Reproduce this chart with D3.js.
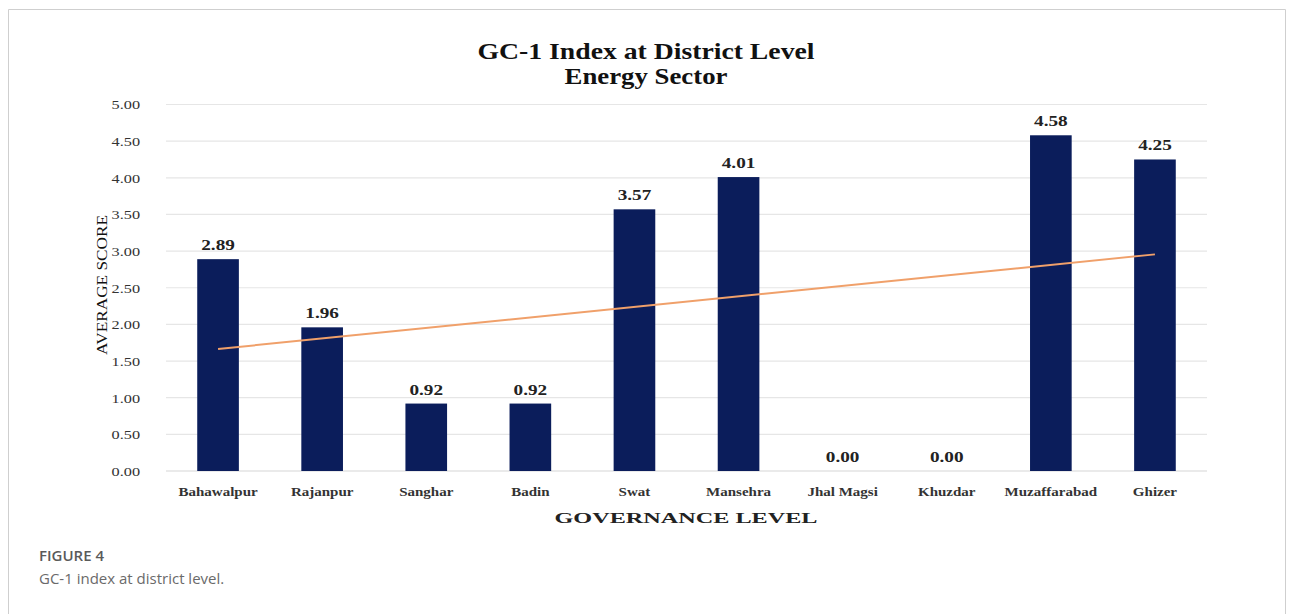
<!DOCTYPE html>
<html><head><meta charset="utf-8">
<script src="https://cdn.jsdelivr.net/npm/d3@7"></script>
<style>
html,body{margin:0;padding:0;background:#fff;}
svg{display:block;}
</style></head>
<body>
<svg id="chart" width="1292" height="614"></svg>
<script>
const categories = ["Bahawalpur","Rajanpur","Sanghar","Badin","Swat","Mansehra","Jhal Magsi","Khuzdar","Muzaffarabad","Ghizer"];
const values = [2.89,1.96,0.92,0.92,3.57,4.01,0.00,0.00,4.58,4.25];
const yTicks = [0,0.5,1,1.5,2,2.5,3,3.5,4,4.5,5];
const titleLines = ["GC-1 Index at District Level","Energy Sector"];
const yTitle = "AVERAGE SCORE";
const xTitle = "GOVERNANCE LEVEL";
const figLabel = "FIGURE 4";
const caption = "GC-1 index at district level.";

const svg = d3.select("#chart");
const W = 1292, H = 614;
const m = {left:166, right:1207, top:104.5, bottom:471};

// widen text horizontally like the stretched original
function widen(sel, k){
  sel.each(function(){
    const L = this.getComputedTextLength();
    d3.select(this).attr("textLength", L*k).attr("lengthAdjust","spacingAndGlyphs");
  });
}

// frame
svg.append("path").attr("d",`M8.5,${H} V9.5 H1285.5 V${H}`).attr("fill","none").attr("stroke","#cfcfcf").attr("stroke-width",1);

const x = d3.scaleBand().domain(categories).range([m.left,m.right]).paddingInner(0.6).paddingOuter(0.3);
const y = d3.scaleLinear().domain([0,5]).range([m.bottom,m.top]);

// gridlines
svg.append("g").selectAll("line").data(yTicks).join("line")
  .attr("x1",m.left).attr("x2",m.right)
  .attr("y1",d=>y(d)).attr("y2",d=>y(d))
  .attr("stroke",d=>d===0?"#d6d6d6":"#e6e6e6").attr("stroke-width",1.2);

// y axis labels
const yAxis = d3.axisLeft(y).tickValues(yTicks).tickFormat(d3.format(".2f")).tickSize(0).tickPadding(0);
const ya = svg.append("g").attr("transform",`translate(${m.left-26},0)`).call(yAxis);
ya.select(".domain").remove();
ya.selectAll("text").attr("font-family","Liberation Serif").attr("font-size",12.5).attr("fill","#333").attr("dy","0.35em");
widen(ya.selectAll("text"), 1.3);

// bars
svg.append("g").selectAll("rect").data(values).join("rect")
  .attr("x",(d,i)=>x(categories[i])).attr("width",x.bandwidth())
  .attr("y",d=>y(d)).attr("height",d=>y(0)-y(d))
  .attr("fill","#0b1d5b");

// value labels
const vl = svg.append("g").selectAll("text").data(values).join("text")
  .attr("x",(d,i)=>x(categories[i])+x.bandwidth()/2)
  .attr("y",d=>y(d)-9)
  .attr("text-anchor","middle")
  .attr("font-family","Liberation Serif").attr("font-weight","bold").attr("font-size",15)
  .attr("fill","#222")
  .text(d=>d.toFixed(2));
widen(vl, 1.28);

// x axis labels
const xAxis = d3.axisBottom(x).tickSize(0).tickPadding(0);
const xa = svg.append("g").attr("transform",`translate(0,${m.bottom+21})`).call(xAxis);
xa.select(".domain").remove();
xa.selectAll("text").attr("font-family","Liberation Serif").attr("font-weight","bold").attr("font-size",12.5)
  .attr("fill","#333").attr("dy","0.35em");
widen(xa.selectAll("text"), 1.2);

// linear trendline (least squares fit of the series)
const n = values.length;
const xs = d3.range(1,n+1);
const mx = d3.mean(xs), my = d3.mean(values);
const slope = d3.sum(xs.map((v,i)=>(v-mx)*(values[i]-my)))/d3.sum(xs.map(v=>(v-mx)*(v-mx)));
const icpt = my - slope*mx;
const trend = [0,n-1].map(i=>({c:categories[i], v:icpt+slope*(i+1)}));
svg.append("path").datum(trend)
  .attr("d",d3.line().x(d=>x(d.c)+x.bandwidth()/2).y(d=>y(d.v)))
  .attr("fill","none").attr("stroke","#f0a06a").attr("stroke-width",2);

// titles
svg.append("text").attr("x",646).attr("y",59).attr("text-anchor","middle")
  .attr("font-family","Liberation Serif").attr("font-weight","bold").attr("font-size",23).attr("fill","#111")
  .text(titleLines[0]).attr("textLength",337).attr("lengthAdjust","spacingAndGlyphs");
svg.append("text").attr("x",646).attr("y",84).attr("text-anchor","middle")
  .attr("font-family","Liberation Serif").attr("font-weight","bold").attr("font-size",23).attr("fill","#111")
  .text(titleLines[1]).attr("textLength",163).attr("lengthAdjust","spacingAndGlyphs");

svg.append("text").attr("transform",`translate(107,${285}) rotate(-90)`)
  .attr("text-anchor","middle").attr("font-family","Liberation Serif").attr("font-size",15).attr("fill","#111")
  .text(yTitle).attr("textLength",140).attr("lengthAdjust","spacingAndGlyphs");

svg.append("text").attr("x",686).attr("y",523).attr("text-anchor","middle")
  .attr("font-family","Liberation Serif").attr("font-weight","bold").attr("font-size",14).attr("fill","#222")
  .text(xTitle).attr("textLength",263).attr("lengthAdjust","spacingAndGlyphs");

// caption
svg.append("text").attr("x",39).attr("y",561).attr("font-family","Open Sans").attr("font-weight",600)
  .attr("font-size",15).attr("fill","#5a5a5a").text(figLabel);
svg.append("text").attr("x",39).attr("y",584).attr("font-family","Open Sans")
  .attr("font-size",15).attr("fill","#6a6a6a").text(caption);
</script>
</body></html>
